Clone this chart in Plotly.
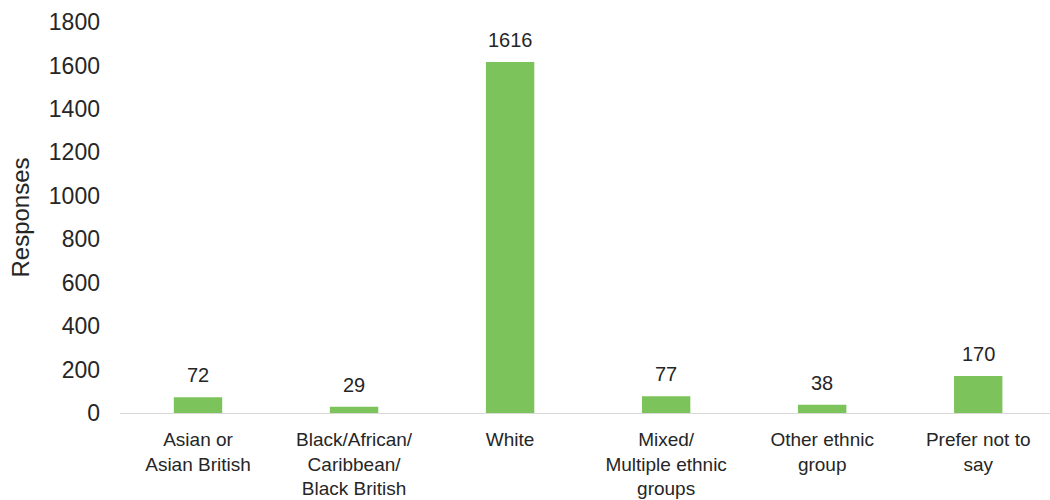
import plotly.graph_objects as go

categories = ["Asian or<br>Asian British", "Black/African/<br>Caribbean/<br>Black British", "White",
              "Mixed/<br>Multiple ethnic<br>groups", "Other ethnic<br>group", "Prefer not to<br>say"]
responses = [72, 29, 1616, 77, 38, 170]
y_ticks = [0, 200, 400, 600, 800, 1000, 1200, 1400, 1600, 1800]

FONT = "Liberation Sans, Arial, sans-serif"
TEXT = "#262626"

fig = go.Figure(go.Bar(x=categories, y=responses, marker=dict(color="#7CC35C", line=dict(width=0)),
                       width=0.31))

for c, v in zip(categories, responses):
    fig.add_annotation(x=c, y=v, text=str(v), showarrow=False, yanchor="bottom", yshift=9,
                       font=dict(family=FONT, size=20, color=TEXT))

fig.update_layout(
    width=1050, height=500,
    margin=dict(l=120, r=0, t=22, b=87),
    paper_bgcolor="white", plot_bgcolor="white",
    showlegend=False,
    font=dict(family=FONT, size=20, color=TEXT),
)
fig.update_xaxes(showline=True, linecolor="#D9D9D9", linewidth=1, ticks="", showgrid=False,
                 range=[-0.5, 5.46],
                 automargin=False, ticklabelstandoff=9, tickfont=dict(size=19, color=TEXT))
fig.update_yaxes(range=[0, 1800], tickvals=y_ticks, showgrid=False, zeroline=False, showline=False,
                 ticks="", ticklabelstandoff=19, automargin=False,
                 title=dict(text="Responses", font=dict(size=24, color=TEXT), standoff=12),
                 tickfont=dict(size=23, color=TEXT))

fig.write_html("out.html")
